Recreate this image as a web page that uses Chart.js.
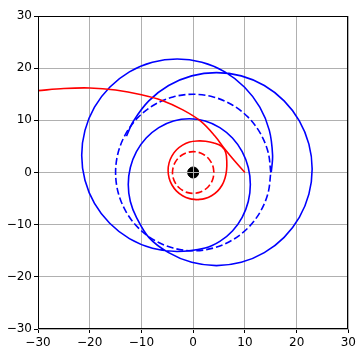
<!DOCTYPE html>
<html>
<head>
<meta charset="utf-8">
<script src="https://cdn.jsdelivr.net/npm/chart.js@4"></script>
<style>
html, body { margin: 0; padding: 0; background: #fff; }
canvas { display: block; }
</style>
</head>
<body>
<canvas id="orbitChart" width="359" height="357"></canvas>
<script>
// tick values for both axes
const tickValues = [-30, -20, -10, 0, 10, 20, 30];

// central body
const centre = [[0, 0]];

// reference circular orbits (dashed), r = 4 and r = 15
const innerRef = [[4, 0], [3.86, 1.04], [3.46, 2], [2.83, 2.83], [2, 3.46], [1.04, 3.86], [0, 4],
    [-1.04, 3.86], [-2, 3.46], [-2.83, 2.83], [-3.46, 2], [-3.86, 1.04], [-4, 0], [-3.86, -1.04],
    [-3.46, -2], [-2.83, -2.83], [-2, -3.46], [-1.04, -3.86], [0, -4], [1.04, -3.86], [2, -3.46],
    [2.83, -2.83], [3.46, -2], [3.86, -1.04], [4, 0]];
const outerRef = [[15, 0], [14.49, 3.88], [12.99, 7.5], [10.61, 10.61], [7.5, 12.99], [3.88, 14.49], [0, 15],
    [-3.88, 14.49], [-7.5, 12.99], [-10.61, 10.61], [-12.99, 7.5], [-14.49, 3.88], [-15, 0], [-14.49, -3.88],
    [-12.99, -7.5], [-10.61, -10.61], [-7.5, -12.99], [-3.88, -14.49], [0, -15], [3.88, -14.49],
    [7.5, -12.99], [10.61, -10.61], [12.99, -7.5], [14.49, -3.88], [15, 0]];

// red body: bound loop and escaping track
const redLoop = [[0.75, -5.2], [2.2, -5.01], [3.55, -4.45], [4.71, -3.56], [5.6, -2.4], [6.16, -1.05],
    [6.45, 0.4], [6.5, 2.0], [6.3, 3.8], [5.5, 5.0], [4.0, 5.65], [2.4, 6.0], [0.75, 6.05], [-0.7, 5.85],
    [-2.05, 5.25], [-3.21, 4.36], [-4.1, 3.2], [-4.66, 1.85], [-4.85, 0.4], [-4.66, -1.05], [-4.1, -2.4],
    [-3.21, -3.56], [-2.05, -4.45], [-0.7, -5.01], [0.75, -5.2]];
const redEscape = [[-30, 15.7], [-25, 16.1], [-20, 16.2], [-15, 15.8], [-10, 14.9], [-6, 13.8], [-2, 12.0],
    [1.5, 9.8], [4.2, 7.0], [6.1, 4.5], [8.2, 2.0], [10, 0]];

// blue body: precessing track, starts on the r = 15 orbit
const blueTrack = [[15.1, 0.1], [15.35, 3.3], [14.72, 8.08], [12.88, 12.53], [9.94, 16.34], [6.13, 19.28],
    [1.68, 21.12], [-3.1, 21.75], [-7.88, 21.12], [-12.33, 19.28], [-16.14, 16.34], [-19.08, 12.53],
    [-20.92, 8.08], [-21.55, 3.3], [-20.92, -1.48], [-19.08, -5.93], [-16.14, -9.74], [-12.33, -12.68],
    [-7.88, -14.52], [-3.1, -15.15], [2.31, -14.47], [5.15, -13.21], [7.59, -11.21], [9.47, -8.6],
    [10.65, -5.56], [11.05, -2.3], [10.65, 0.96], [9.47, 4.0], [7.59, 6.61], [5.15, 8.61], [2.31, 9.87],
    [-0.75, 10.3], [-3.81, 9.87], [-6.65, 8.61], [-9.09, 6.61], [-10.97, 4.0], [-12.15, 0.96],
    [-12.55, -2.3], [-12.15, -5.56], [-10.97, -8.6], [-8.58, -12.43], [-4.75, -15.37], [-0.29, -17.22],
    [4.5, -17.85], [9.29, -17.22], [13.75, -15.37], [17.58, -12.43], [20.52, -8.6], [22.37, -4.14],
    [23.0, 0.65], [22.37, 5.44], [20.52, 9.9], [17.58, 13.73], [13.75, 16.67], [9.29, 18.52], [4.5, 19.15],
    [-0.29, 18.52], [-4.75, 16.67], [-8.58, 13.73], [-11.52, 9.9], [-12.9, 6.98]];

const toXY = arr => arr.map(p => ({x: p[0], y: p[1]}));
const fmt = v => v < 0 ? '\u2212' + Math.abs(v) : String(v);

function curve(points, color, dashed) {
    return {
        data: toXY(points),
        borderColor: color,
        borderWidth: 1.6,
        borderDash: dashed ? [7, 3] : [],
        pointRadius: 0,
        tension: 0.34,
        fill: false
    };
}

// grid lines sit above the centre dot, matplotlib style; frame on all four sides
const framePlugin = {
    id: 'frame',
    afterDatasetDraw(chart, args) {
        if (args.index !== 0) return;
        const {ctx, chartArea: a, scales} = chart;
        ctx.save();
        ctx.strokeStyle = '#b0b0b0';
        ctx.lineWidth = 1;
        ctx.beginPath();
        tickValues.forEach(v => {
            const px = Math.round(scales.x.getPixelForValue(v) - 0.5) + 0.5;
            const py = Math.round(scales.y.getPixelForValue(v) - 0.5) + 0.5;
            ctx.moveTo(px, a.top); ctx.lineTo(px, a.bottom);
            ctx.moveTo(a.left, py); ctx.lineTo(a.right, py);
        });
        ctx.stroke();
        ctx.restore();
    },
    afterDraw(chart) {
        const {ctx, chartArea: a} = chart;
        ctx.save();
        ctx.strokeStyle = '#000';
        ctx.lineWidth = 1;
        ctx.strokeRect(Math.round(a.left) + 0.5, Math.round(a.top) + 0.5,
            Math.round(a.right - a.left) - 1, Math.round(a.bottom - a.top) - 1);
        ctx.restore();
    }
};

function axis(fitKey, fitSize) {
    return {
        type: 'linear',
        min: -30,
        max: 30,
        afterBuildTicks: s => { s.ticks = tickValues.map(v => ({value: v})); },
        afterFit: s => { s[fitKey] = fitSize; },
        border: {display: false},
        grid: {color: '#b0b0b0', lineWidth: 1, tickColor: '#000', tickLength: 4, tickWidth: 1},
        ticks: {
            color: '#000',
            font: {family: 'DejaVu Sans', size: 12},
            padding: 2,
            maxRotation: 0,
            callback: v => fmt(v)
        }
    };
}

const xAxis = axis('height', 28);
xAxis.ticks.padding = 3;
const yAxis = axis('width', 38);

new Chart(document.getElementById('orbitChart'), {
    type: 'line',
    data: {
        datasets: [
            {data: toXY(centre), showLine: false, backgroundColor: '#000', borderColor: '#000',
                pointRadius: 5.5, order: 10},
            curve(innerRef, '#ff0000', true),
            curve(redLoop, '#ff0000', false),
            curve(redEscape, '#ff0000', false),
            curve(outerRef, '#0000ff', true),
            curve(blueTrack, '#0000ff', false)
        ]
    },
    options: {
        responsive: false,
        animation: false,
        layout: {padding: {top: 16, right: 8, left: 0, bottom: 0}},
        plugins: {legend: {display: false}, tooltip: {enabled: false}},
        scales: {x: xAxis, y: yAxis}
    },
    plugins: [framePlugin]
});
</script>
</body>
</html>
